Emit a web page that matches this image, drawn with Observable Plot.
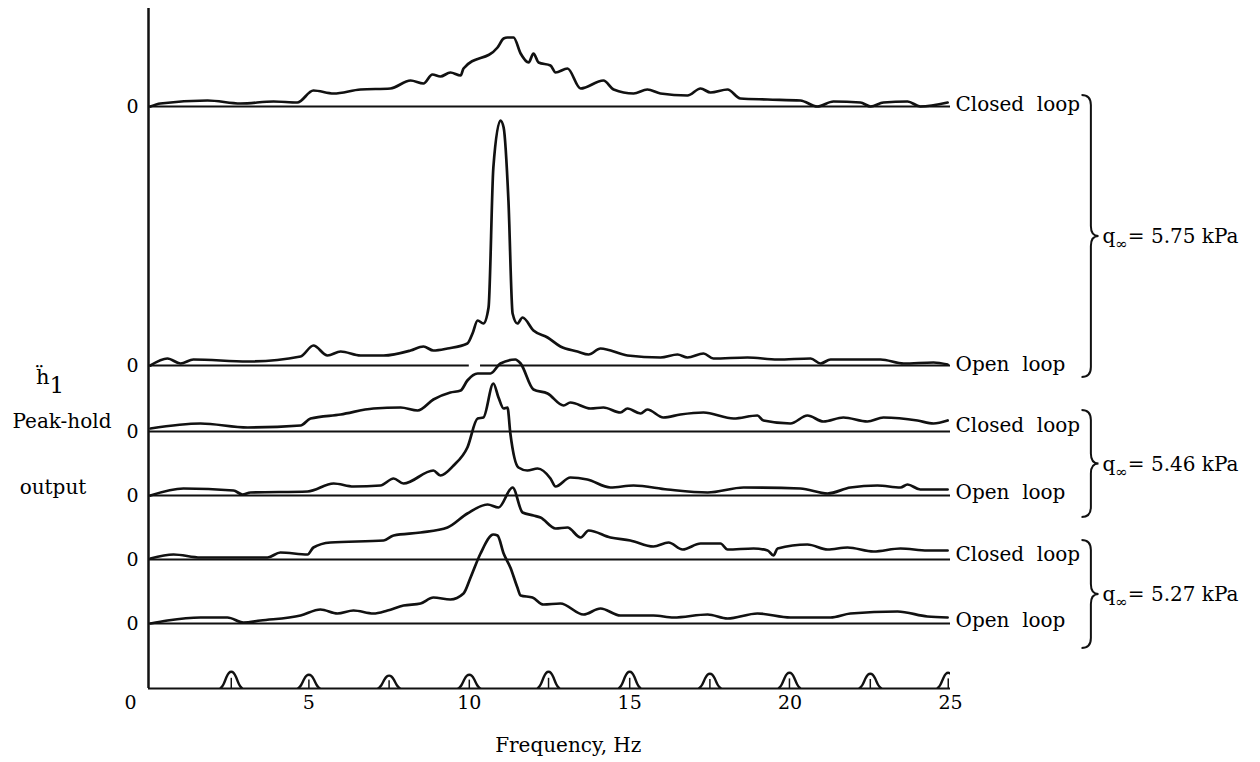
<!DOCTYPE html>
<html><head><meta charset="utf-8">
<script src="https://cdn.jsdelivr.net/npm/d3@7"></script>
<script src="https://cdn.jsdelivr.net/npm/@observablehq/plot@0.6"></script>
<style>html,body{margin:0;padding:0;background:#fff;} #chart{width:1260px;height:762px;}</style>
</head><body><div id="chart"></div>
<script>
// ---- data: [frequency Hz, amplitude above its own zero line] ----
const closed575 = [[0.06,0],[0.37,3],[1.84,6],[2.87,3],[3.90,5],[4.64,4],[5.14,16],[5.77,13],[6.61,17],[7.54,18],[8.17,26],[8.57,23],[8.85,32],[9.10,30],[9.41,34],[9.73,31],[9.82,38],[10.88,59],[11.07,68],[11.19,69],[11.38,69],[11.60,53],[11.85,44],[12.0,53],[12.16,44],[12.53,41],[12.69,34],[13.06,38],[13.47,18],[14.18,26],[14.50,17],[15.12,13],[15.55,17],[15.96,13],[16.80,11],[17.21,18],[17.52,14],[18.05,17],[18.45,8],[19.30,7],[20.32,6],[20.85,0],[21.35,5],[22.19,4],[22.51,0],[22.91,4],[23.66,5],[24.06,0],[24.91,4]];
const open575 = [[0.06,0],[0.59,7],[1.0,2],[1.40,6],[3.09,4],[4.74,9],[5.14,20],[5.58,10],[5.99,14],[6.61,10],[7.33,10],[8.17,15],[8.57,19],[8.88,15],[9.32,17],[9.94,22],[10.10,32],[10.26,45],[10.44,42],[10.60,58],[10.75,198],[10.97,245],[11.07,238],[11.22,165],[11.35,52],[11.50,42],[11.66,48],[12.0,35],[12.44,28],[12.84,19],[13.37,14],[13.72,11],[14.09,17],[14.93,10],[15.96,8],[16.49,11],[16.80,8],[17.30,12],[17.61,7],[18.67,8],[19.61,6],[20.64,7],[20.95,2],[21.26,6],[22.82,6],[23.54,2],[24.47,3],[24.91,1]];
const closed546 = [[0.06,3],[1.62,8],[3.09,4],[4.74,6],[5.05,13],[5.99,17],[7.01,23],[7.86,24],[8.39,21],[8.88,32],[9.41,39],[9.73,41],[9.94,51],[10.26,58],[10.66,58],[10.97,68],[11.44,72],[11.50,71],[11.60,68],[12.0,42],[12.44,38],[12.94,26],[13.15,29],[13.78,23],[14.18,24],[14.71,19],[14.93,23],[15.34,18],[15.55,22],[16.05,14],[16.58,17],[17.30,19],[18.24,13],[18.98,16],[19.17,11],[20.01,8],[20.54,16],[21.04,10],[21.66,14],[22.41,10],[22.91,14],[23.97,11],[24.47,8],[24.91,11]];
const open546 = [[0.06,0],[1.09,7],[2.65,5],[2.93,1],[3.18,3],[4.96,4],[5.77,12],[6.39,9],[7.23,10],[7.64,17],[7.95,12],[8.88,25],[9.10,20],[9.51,30],[9.94,48],[10.26,77],[10.44,78],[10.75,112],[10.91,98],[11.07,87],[11.19,88],[11.28,62],[11.53,28],[11.81,25],[12.13,27],[12.53,17],[12.69,9],[13.15,18],[13.68,16],[14.40,8],[15.12,10],[16.18,6],[17.43,3],[18.55,8],[20.32,7],[21.17,2],[21.88,8],[22.72,10],[23.44,8],[23.66,11],[24.06,6],[24.91,6]];
const closed527 = [[0.06,1],[0.78,5],[1.62,2],[3.71,2],[4.11,7],[4.96,5],[5.14,12],[5.67,17],[7.33,19],[7.64,24],[8.48,27],[9.32,32],[9.94,46],[10.57,55],[10.91,52],[11.35,72],[11.66,47],[12.0,44],[12.22,42],[12.69,31],[13.06,32],[13.47,22],[13.72,29],[14.40,22],[15.02,19],[15.74,13],[16.21,17],[16.65,10],[17.21,16],[17.83,16],[18.05,10],[18.86,11],[19.30,9],[19.48,4],[19.61,11],[20.54,15],[21.17,10],[21.79,12],[22.60,8],[23.44,11],[24.28,9],[24.91,9]];
const open527 = [[0.06,0],[0.59,3],[1.62,6],[2.46,6],[2.96,1],[3.49,3],[4.74,8],[5.36,14],[5.89,10],[6.39,13],[7.01,10],[7.45,13],[7.95,18],[8.48,20],[8.88,26],[9.41,24],[9.82,30],[10.04,46],[10.35,70],[10.75,89],[10.88,88],[11.07,70],[11.28,56],[11.50,36],[11.60,28],[11.97,26],[12.31,19],[12.84,20],[13.56,9],[14.09,15],[14.71,8],[15.74,8],[16.37,6],[17.43,9],[18.05,5],[18.98,10],[20.01,6],[21.26,6],[21.88,10],[23.35,12],[24.28,7],[24.91,6]];

const traceSeries = [closed575, open575, closed546, open546, closed527, open527];
const traceNames = ["Closed  loop", "Open  loop", "Closed  loop", "Open  loop", "Closed  loop", "Open  loop"];
const zeroLevels = [582, 323, 257, 193, 129, 65];   // zero line of each trace, in chart units

// zero-line segments [from Hz, to Hz] (the open-loop 5.75 zero line is broken near 10 Hz)
const zeroLineSegments = [[0, [0, 25]], [1, [0, 10.0]], [1, [10.35, 25]], [2, [0, 25]], [3, [0, 25]], [4, [0, 25]], [5, [0, 25]]];

const groupLabels = ["5.75", "5.46", "5.27"];        // q∞, kPa
const groupTop = [593, 278, 148];
const groupBottom = [311, 171, 40];

// frequency calibration marker trace (bottom)
const calibCenters = [2.58, 5.0, 7.5, 10.0, 12.47, 15.0, 17.5, 19.98, 22.5, 24.93];
const calibHeights = [17, 14, 13, 14, 17, 17, 15, 16, 15, 16];
const pulseDx = [-0.34, -0.24, -0.15, -0.07, 0, 0.07, 0.15, 0.24, 0.34];
const pulseK  = [0, 0.2, 0.7, 0.96, 1, 0.96, 0.7, 0.2, 0];

const xTicks = [5, 10, 15, 20, 25];

// ---- build tables ----
const rows = traceSeries.flatMap((s, i) => s.map(([f, a]) => ({trace: i, f, y: zeroLevels[i] + a})));
const labelRows = traceSeries.map((s, i) => ({name: traceNames[i], y: zeroLevels[i] + s[s.length - 1][1] / 2}));
const zeroRows = zeroLineSegments.map(([i, [a, b]]) => ({y: zeroLevels[i], x1: a, x2: b})).concat([{y: 0, x1: 0, x2: 25}]);
const calibRows = calibCenters.flatMap((c, i) => pulseDx.map((dx, j) => ({p: i, f: c + dx, y: calibHeights[i] * pulseK[j]})));
const calibTicks = calibCenters.map((c, i) => ({f: c, h: calibHeights[i] * 0.6}));

const FONT = "DejaVu Serif";

const plot = Plot.plot({
  width: 1260, height: 762,
  marginLeft: 148, marginRight: 310, marginTop: 8, marginBottom: 74,
  x: {domain: [0, 25]},
  y: {domain: [0, 680]},
  style: {fontFamily: FONT, fontSize: "19px", color: "#000", background: "#fff"},
  marks: [
    Plot.ruleY(zeroRows, {y: "y", x1: "x1", x2: "x2", stroke: "#111", strokeWidth: 2}),
    Plot.ruleX([0], {y1: 0, y2: 680, stroke: "#111", strokeWidth: 2.5}),
    Plot.line(rows, {x: "f", y: "y", z: "trace", stroke: "#111", strokeWidth: 2.7, curve: "monotone-x", strokeLinejoin: "round", strokeLinecap: "round"}),
    Plot.line(calibRows, {x: "f", y: "y", z: "p", stroke: "#111", strokeWidth: 2.4, curve: "basis", clip: true}),
    Plot.ruleX(calibTicks, {x: "f", y1: 0, y2: "h", stroke: "#111", strokeWidth: 1.5}),
    Plot.axisY(zeroLevels, {tickSize: 0, tickPadding: 10, tickFormat: () => "0", fontSize: 19, label: null}),
    Plot.axisX(xTicks, {tickSize: 0, tickPadding: 7, fontSize: 19, label: null}),
    Plot.axisX([0], {tickSize: 0, tickPadding: 7, fontSize: 19, dx: -18, label: null}),
    Plot.text(labelRows, {x: 25, y: "y", text: "name", textAnchor: "start", dx: 5, fontSize: 20, fill: "#000"})
  ]
});
document.getElementById("chart").appendChild(plot);

// ---- annotations: braces, group labels, axis titles ----
const sx = plot.scale("x"), sy = plot.scale("y");
const svg = d3.select(plot);
const x0 = sx.apply(29.1), w = 17, r = 10;
const addText = (x, y, size, anchor) => svg.append("text").attr("x", x).attr("y", y)
  .attr("font-family", FONT).attr("font-size", size).attr("fill", "#000").attr("text-anchor", anchor);
groupLabels.forEach((g, i) => {
  const yt = sy.apply(groupTop[i]), yb = sy.apply(groupBottom[i]), ym = (yt + yb) / 2;
  const xm = x0 + w * 0.55, xt = x0 + w;
  const d = `M${x0},${yt} Q${xm},${yt} ${xm},${yt + r} L${xm},${ym - r} Q${xm},${ym} ${xt},${ym} Q${xm},${ym} ${xm},${ym + r} L${xm},${yb - r} Q${xm},${yb} ${x0},${yb}`;
  svg.append("path").attr("d", d).attr("fill", "none").attr("stroke", "#111").attr("stroke-width", 2);
  const t = addText(xt + 4, ym + 7, 20, "start");
  t.append("tspan").text("q");
  t.append("tspan").attr("dy", 6).attr("font-size", 15).text("∞");
  t.append("tspan").attr("dy", -6).text("= " + g + " kPa");
});

addText(sx.apply(13.1), 752, 20, "middle").text("Frequency, Hz");

const yl = addText(36, 384, 21, "start");
yl.append("tspan").text("ḧ");
yl.append("tspan").attr("dy", 9).attr("font-size", 23).text("1");
addText(62, 428, 20, "middle").text("Peak-hold");
addText(53, 494, 20, "middle").text("output");
</script>
</body></html>
